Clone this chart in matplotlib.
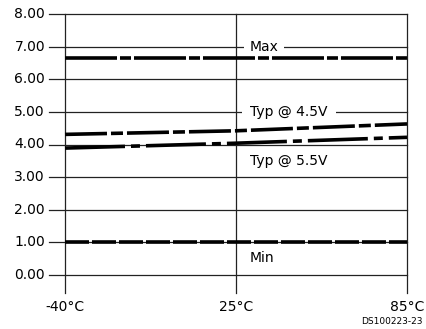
import matplotlib
matplotlib.use("Agg")
import matplotlib.pyplot as plt

temps = ["-40°C", "25°C", "85°C"]
y_ticks = [0, 1, 2, 3, 4, 5, 6, 7, 8]
y_tick_labels = ["0.00", "1.00", "2.00", "3.00", "4.00", "5.00", "6.00", "7.00", "8.00"]
max_vals = [6.65, 6.65, 6.65]
typ45_vals = [4.31, 4.42, 4.63]
typ55_vals = [3.89, 4.04, 4.22]
min_vals = [1.00, 1.00, 1.00]

plt.rcParams['lines.scale_dashes'] = False
W, H = 426, 329
fig = plt.figure(figsize=(W / 100, H / 100), dpi=100)
# axes spans pixel x 49..407, y 14..293
ax = fig.add_axes([49 / W, 1 - 293 / H, (407 - 49) / W, (293 - 14) / H])
ax.set_axis_off()
xpx = 171.0
ypx = 32.625
ax.set_xlim(-16 / xpx, 2)
ax.set_ylim(-18 / ypx, 8)

xs = list(range(len(temps)))
gc = "#222222"
for i, v in enumerate(y_ticks):
    ax.plot([-16 / xpx, 2], [v, v], color=gc, lw=0.9, clip_on=False, zorder=1)
    ax.text(-20 / xpx, v, y_tick_labels[i], ha="right", va="center",
            fontsize=10, color="black")
for x in xs:
    ax.plot([x, x], [-18 / ypx, 8], color=gc, lw=0.9, clip_on=False, zorder=1)
    ax.text(x, -32 / ypx, temps[x], ha="center", va="center", fontsize=10)

p = 1 / 1.389
lmax, = ax.plot(xs, max_vals, color="black", lw=2.6, zorder=3, dash_capstyle="butt")
lmax.set_dashes((52 * p, 3 * p, 11 * p, 3 * p))
l45, = ax.plot(xs, typ45_vals, color="black", lw=2.6, zorder=3, dash_capstyle="butt")
l45.set_dashes((42 * p, 4 * p, 12 * p, 4 * p))
l55, = ax.plot(xs, typ55_vals, color="black", lw=2.6, zorder=3, dash_capstyle="butt")
l55.set_dashes((60 * p, 6 * p, 9 * p, 6 * p))
lmin, = ax.plot(xs, min_vals, color="black", lw=2.6, zorder=3, dash_capstyle="butt")
lmin.set_dashes((24 * p, 3 * p))

lx = 1 + 14 / xpx
ax.text(lx, 7, "Max", ha="left", va="center", fontsize=10,
        bbox=dict(facecolor="white", edgecolor="none", pad=4), zorder=2)
ax.text(lx, 5, "Typ @ 4.5V", ha="left", va="center", fontsize=10,
        bbox=dict(facecolor="white", edgecolor="none", pad=6), zorder=2)
ax.text(lx, 3.5, "Typ @ 5.5V", ha="left", va="center", fontsize=10, zorder=2)
ax.text(lx, 0.53, "Min", ha="left", va="center", fontsize=10, zorder=2)

fig.text(423 / W, 1 - 322 / H, "DS100223-23", ha="right", va="center", fontsize=6.5)

fig.savefig("out.png", dpi=100)
